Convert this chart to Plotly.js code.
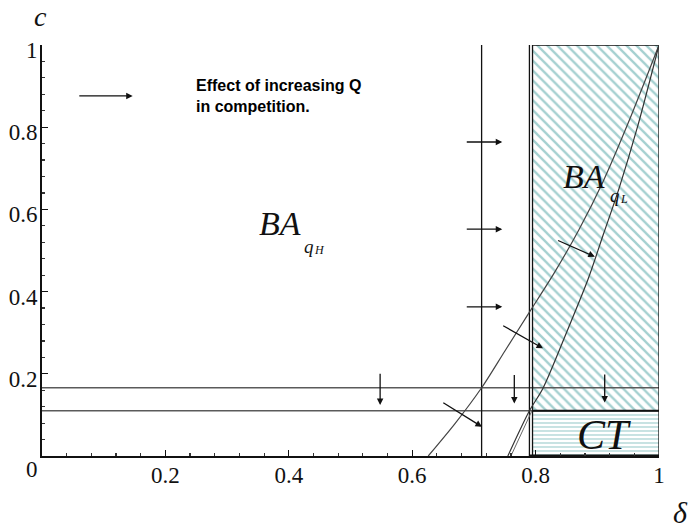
<!DOCTYPE html>
<html>
<head>
<meta charset="utf-8">
<script src="https://cdn.plot.ly/plotly-3.0.1.min.js"></script>
<style>html,body{margin:0;padding:0;background:#fff;}#chart{width:691px;height:531px;}</style>
</head>
<body>
<div id="chart"></div>
<script>
// ---- data ----
const xTickVals = [0.2, 0.4, 0.6, 0.8, 1];
const xTickText = ["0.2", "0.4", "0.6", "0.8", "1"];
const yTickVals = [0.2, 0.4, 0.6, 0.8, 1];
const yTickText = ["0.2", "0.4", "0.6", "0.8", "1"];

const hLineC = [0.166, 0.11];          // horizontal thresholds on c
const vLineD = [0.7125, 0.79];         // vertical thresholds on delta

const curveA_d = [0.626, 0.67, 0.7125, 0.75, 0.79, 0.83, 0.87, 0.91, 0.95, 1];
const curveA_c = [0, 0.08, 0.166, 0.255, 0.35, 0.445, 0.55, 0.67, 0.81, 1];

const curveB_d = [0.755, 0.79, 0.812, 0.85, 0.885, 0.91, 0.935, 0.965, 1];
const curveB_c = [0, 0.11, 0.165, 0.30, 0.43, 0.54, 0.65, 0.80, 1];

const lineC_d = [0.76, 0.794];
const lineC_c = [0, 0.11];

const ctBox_d = [0.795, 1];            // CT region delta range
const ctBox_c = [0, 0.11];             // CT region c range
const baBox_c = [0.11, 1];             // BA_qL hatched region c range

// arrows: tail (d0,c0) -> head (d1,c1)
const arrowD0 = [0.058, 0.686, 0.686, 0.686, 0.548, 0.7655, 0.912, 0.648, 0.745, 0.834];
const arrowC0 = [0.876, 0.764, 0.552, 0.363, 0.204, 0.201, 0.202, 0.132, 0.319, 0.526];
const arrowD1 = [0.147, 0.746, 0.746, 0.746, 0.548, 0.7655, 0.912, 0.713, 0.812, 0.896];
const arrowC1 = [0.876, 0.764, 0.552, 0.363, 0.124, 0.128, 0.130, 0.071, 0.262, 0.485];

// ---- traces ----
const traces = [];
const teal = "#a4d0d0";

traces.push({
  x: [ctBox_d[0], ctBox_d[1], ctBox_d[1], ctBox_d[0], ctBox_d[0]],
  y: [baBox_c[0], baBox_c[0], baBox_c[1], baBox_c[1], baBox_c[0]],
  mode: "lines", fill: "toself", line: {width: 0},
  fillcolor: "rgba(0,0,0,0)",
  fillpattern: {shape: "\\", fgcolor: teal, bgcolor: "#ffffff", size: 7, solidity: 0.33},
  hoverinfo: "skip", showlegend: false
});
traces.push({
  x: [ctBox_d[0], ctBox_d[1], ctBox_d[1], ctBox_d[0], ctBox_d[0]],
  y: [ctBox_c[0], ctBox_c[0], ctBox_c[1], ctBox_c[1], ctBox_c[0]],
  mode: "lines", fill: "toself", line: {width: 0},
  fillcolor: "rgba(0,0,0,0)",
  fillpattern: {shape: "-", fgcolor: teal, bgcolor: "#ffffff", size: 4, solidity: 0.3},
  hoverinfo: "skip", showlegend: false
});

hLineC.forEach(c => traces.push({
  x: [0, 1], y: [c, c], mode: "lines",
  line: {color: "#5a5a5a", width: 1.5}, hoverinfo: "skip", showlegend: false
}));
vLineD.forEach(d => traces.push({
  x: [d, d], y: [0, 1], mode: "lines",
  line: {color: "#111", width: 1.3}, hoverinfo: "skip", showlegend: false
}));

traces.push({
  x: [ctBox_d[0], ctBox_d[0], ctBox_d[1], ctBox_d[1]],
  y: [0, baBox_c[1], baBox_c[1], 0],
  mode: "lines", line: {color: "#111", width: 1.3}, hoverinfo: "skip", showlegend: false
});
traces.push({
  x: [ctBox_d[0], ctBox_d[1]], y: [ctBox_c[1], ctBox_c[1]],
  mode: "lines", line: {color: "#111", width: 2}, hoverinfo: "skip", showlegend: false
});
traces.push({
  x: [vLineD[1], ctBox_d[1]], y: [0, 0],
  mode: "lines", line: {color: "#111", width: 3}, hoverinfo: "skip", showlegend: false
});

traces.push({
  x: curveA_d, y: curveA_c, mode: "lines", line: {color: "#444", width: 1.2, shape: "spline", smoothing: 0.8},
  hoverinfo: "skip", showlegend: false
});
traces.push({
  x: curveB_d, y: curveB_c, mode: "lines", line: {color: "#333", width: 1.2, shape: "spline", smoothing: 0.8},
  hoverinfo: "skip", showlegend: false
});
traces.push({
  x: lineC_d, y: lineC_c, mode: "lines", line: {color: "#666", width: 1},
  hoverinfo: "skip", showlegend: false
});

// ---- annotations ----
const ann = [];
for (let i = 0; i < arrowD0.length; i++) {
  ann.push({
    x: arrowD1[i], y: arrowC1[i], ax: arrowD0[i], ay: arrowC0[i],
    xref: "x", yref: "y", axref: "x", ayref: "y",
    text: "", showarrow: true, arrowhead: 2, arrowsize: 1, arrowwidth: 1.3, arrowcolor: "#111"
  });
}
const serif = "Liberation Serif, Times New Roman, serif";
function txt(x, y, t, size, ref) {
  return {x: x, y: y, xref: ref || "x", yref: ref ? "paper" : "y", text: t, showarrow: false,
    font: {family: serif, size: size, color: "#111"}, xanchor: "center", yanchor: "middle"};
}
ann.push(txt(0.386, 0.566, "<i>BA</i>", 34));
ann.push(txt(0.432, 0.510, "<i>q</i>", 19));
ann.push(txt(0.449, 0.502, "<i>H</i>", 12));
ann.push(txt(0.878, 0.680, "<i>BA</i>", 34));
ann.push(txt(0.928, 0.633, "<i>q</i>", 19));
ann.push(txt(0.944, 0.626, "<i>L</i>", 12));
ann.push(txt(0.911, 0.052, "<i>CT</i>", 42));
ann.push({x: 0.247, y: 0.876, xref: "x", yref: "y", xanchor: "left", yanchor: "middle",
  text: "<b>Effect of increasing Q</b><br><b>in competition.</b>", showarrow: false, align: "left",
  font: {family: "Liberation Sans, Arial, sans-serif", size: 16, color: "#000"}});
ann.push(txt(-0.016, -0.034, "0", 23, "paper"));
ann.push(txt(-0.003, 1.07, "<i>c</i>", 28, "paper"));
ann.push(txt(1.035, -0.138, "<i>δ</i>", 30, "paper"));

const layout = {
  width: 691, height: 531,
  margin: {l: 42, r: 32, t: 45, b: 75, pad: 0},
  paper_bgcolor: "#fff", plot_bgcolor: "#fff",
  showlegend: false,
  xaxis: {
    range: [0, 1], showgrid: false, zeroline: false,
    showline: true, linecolor: "#111", linewidth: 2,
    tickvals: xTickVals, ticktext: xTickText,
    ticks: "inside", ticklen: 6, tickwidth: 1.2, tickcolor: "#111",
    minor: {dtick: 0.04, ticks: "inside", ticklen: 3, tickcolor: "#333", showgrid: false},
    tickfont: {family: serif, size: 23, color: "#111"},
    ticklabelstandoff: -3
  },
  yaxis: {
    range: [0, 1], showgrid: false, zeroline: false,
    showline: true, linecolor: "#111", linewidth: 2,
    tickvals: yTickVals, ticktext: yTickText,
    ticks: "inside", ticklen: 6, tickwidth: 1.2, tickcolor: "#111",
    minor: {dtick: 0.04, ticks: "inside", ticklen: 3, tickcolor: "#333", showgrid: false},
    tickfont: {family: serif, size: 23, color: "#111"},
    ticklabelshift: 5, ticklabelstandoff: -2
  },
  annotations: ann
};

Plotly.newPlot("chart", traces, layout, {displayModeBar: false, staticPlot: true});
</script>
</body>
</html>
